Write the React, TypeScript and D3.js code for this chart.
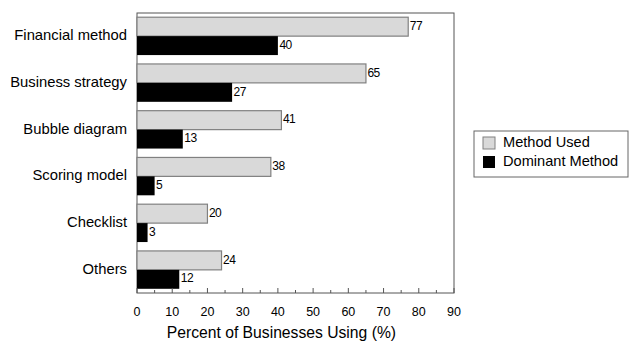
import { useEffect, useRef } from "react";
import * as d3 from "d3";

const categories = [
  "Financial method",
  "Business strategy",
  "Bubble diagram",
  "Scoring model",
  "Checklist",
  "Others",
];
const methodUsed = [77, 65, 41, 38, 20, 24];
const dominantMethod = [40, 27, 13, 5, 3, 12];
const xTicks = [0, 10, 20, 30, 40, 50, 60, 70, 80, 90];
const seriesNames = ["Method Used", "Dominant Method"];
const seriesFill = ["#d9d9d9", "#000000"];

const W = 640;
const H = 353;
const FONT = "'Liberation Sans', Arial, sans-serif";

export default function App() {
  const svgRef = useRef<SVGSVGElement>(null);

  useEffect(() => {
    if (!svgRef.current) return;
    const svg = d3.select(svgRef.current);
    svg.selectAll("*").remove();

    const margin = { left: 137, right: 186, top: 13, bottom: 60 };
    const x = d3
      .scaleLinear()
      .domain([0, 90])
      .range([margin.left, W - margin.right]);
    const y = d3
      .scaleBand<string>()
      .domain(categories)
      .range([margin.top, H - margin.bottom])
      .paddingInner(0.19)
      .paddingOuter(0.09);
    const sub = d3
      .scaleBand<number>()
      .domain([0, 1])
      .range([0, y.bandwidth()]);

    const g = svg.append("g");

    // frame
    g.append("rect")
      .attr("x", x(0))
      .attr("y", margin.top)
      .attr("width", x(90) - x(0))
      .attr("height", H - margin.bottom - margin.top)
      .attr("fill", "white")
      .attr("stroke", "#555")
      .attr("stroke-width", 1);

    const series = [methodUsed, dominantMethod];
    series.forEach((vals, si) => {
      g.selectAll(`.bar-${si}`)
        .data(categories)
        .join("rect")
        .attr("x", x(0))
        .attr("y", (c) => (y(c) || 0) + (sub(si) || 0))
        .attr("width", (_c, i) => x(vals[i]) - x(0))
        .attr("height", sub.bandwidth())
        .attr("fill", seriesFill[si])
        .attr("stroke", si === 0 ? "#808080" : "none")
        .attr("stroke-width", 1.2);

      g.selectAll(`.val-${si}`)
        .data(categories)
        .join("text")
        .attr("x", (_c, i) => x(vals[i]) + 1.5)
        .attr("y", (c) => (y(c) || 0) + (sub(si) || 0) + sub.bandwidth() / 2)
        .attr("dominant-baseline", "middle")
        .style("font-family", FONT)
        .style("font-size", "12px")
        .style("letter-spacing", "-0.5px")
        .attr("fill", "#000")
        .text((_c, i) => vals[i]);
    });

    // category labels
    g.selectAll(".cat")
      .data(categories)
      .join("text")
      .attr("x", x(0) - 10)
      .attr("y", (c) => (y(c) || 0) + y.bandwidth() / 2)
      .attr("text-anchor", "end")
      .attr("dominant-baseline", "middle")
      .style("font-family", FONT)
      .style("font-size", "14.8px")
      .attr("fill", "#000")
      .text((c) => c);

    // x ticks pointing inward
    const y0 = H - margin.bottom;
    const minor = d3.range(5, 90, 10);
    g.selectAll(".tmaj")
      .data(xTicks)
      .join("line")
      .attr("x1", (d) => x(d))
      .attr("x2", (d) => x(d))
      .attr("y1", y0)
      .attr("y2", y0 - 5)
      .attr("stroke", "#555");
    g.selectAll(".tmin")
      .data(minor)
      .join("line")
      .attr("x1", (d) => x(d))
      .attr("x2", (d) => x(d))
      .attr("y1", y0)
      .attr("y2", y0 - 3)
      .attr("stroke", "#555");
    g.selectAll(".tlab")
      .data(xTicks)
      .join("text")
      .attr("x", (d) => x(d))
      .attr("y", y0 + 23)
      .attr("text-anchor", "middle")
      .style("font-family", FONT)
      .style("font-size", "12.5px")
      .attr("fill", "#000")
      .text((d) => d);

    g.append("text")
      .attr("x", x(41))
      .attr("y", y0 + 45)
      .attr("text-anchor", "middle")
      .style("font-family", FONT)
      .style("font-size", "15.7px")
      .attr("fill", "#000")
      .text("Percent of Businesses Using (%)");

    // legend
    const lg = g.append("g").attr("transform", "translate(474,131)");
    lg.append("rect")
      .attr("width", 154)
      .attr("height", 46)
      .attr("fill", "white")
      .attr("stroke", "#666");
    seriesNames.forEach((name, i) => {
      lg.append("rect")
        .attr("x", 9)
        .attr("y", 6 + i * 19)
        .attr("width", 12)
        .attr("height", 12)
        .attr("fill", seriesFill[i])
        .attr("stroke", i === 0 ? "#808080" : "none");
      lg.append("text")
        .attr("x", 29)
        .attr("y", 12.5 + i * 19)
        .attr("dominant-baseline", "middle")
        .style("font-family", FONT)
        .style("font-size", "14.6px")
        .attr("fill", "#000")
        .text(name);
    });
  }, []);

  return (
    <svg
      ref={svgRef}
      width={W}
      height={H}
      style={{ position: "absolute", left: 0, top: 0, background: "white" }}
    />
  );
}
